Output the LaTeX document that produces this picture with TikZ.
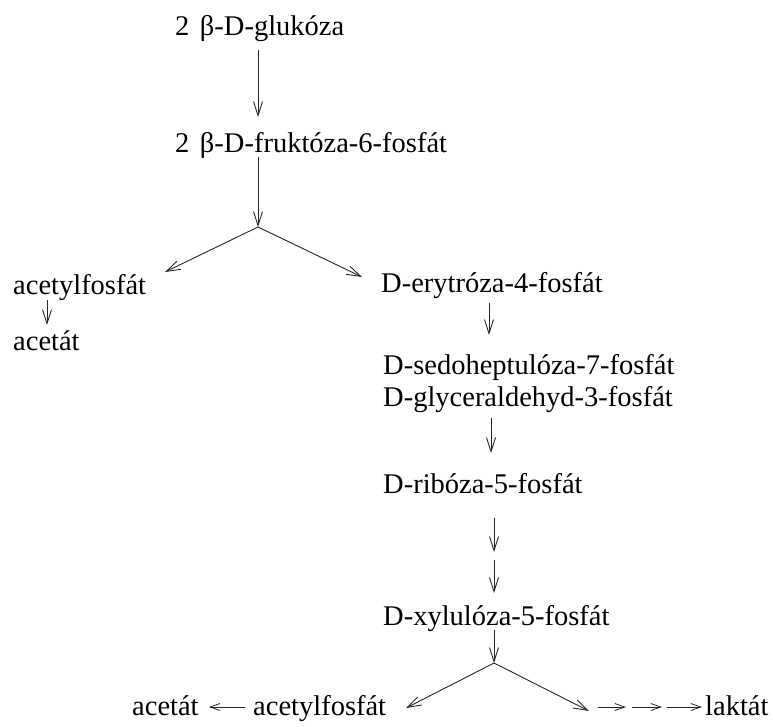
\documentclass[tikz,border=0pt]{standalone}
\usepackage{fontspec}
\setmainfont{Liberation Serif}
\usetikzlibrary{arrows.meta}

\begin{document}
\begin{tikzpicture}[x=1pt,y=-1pt,
  lbl/.style={anchor=base west,inner sep=0pt,font=\fontsize{28.5}{34}\selectfont},
  arr/.style={draw=black!85,line width=0.9pt,-{Straight Barb[length=14pt,width=9pt,line width=0.9pt]}},
  sarr/.style={draw=black!85,line width=0.8pt,-{Straight Barb[length=10pt,width=7pt,line width=0.8pt]}}]
\useasboundingbox (0,0) rectangle (773,726);

% metabolites
\node[lbl] (glu) at (175,35)  {2\hspace{0.12em} β-D-glukóza};
\node[lbl] (fru) at (175,152) {2\hspace{0.12em} β-D-fruktóza-6-fosfát};
\node[lbl] (acl) at (13,294)  {acetylfosfát};
\node[lbl] (ace) at (13,350)  {acetát};
\node[lbl] (ery) at (381,292) {D-erytróza-4-fosfát};
\node[lbl] (sed) at (383,374) {D-sedoheptulóza-7-fosfát};
\node[lbl] (gly) at (383,406) {D-glyceraldehyd-3-fosfát};
\node[lbl] (rib) at (383,493) {D-ribóza-5-fosfát};
\node[lbl] (xyl) at (383,625) {D-xylulóza-5-fosfát};
\node[lbl] (ac2) at (132,715) {acetát};
\node[lbl] (acp) at (253,715) {acetylfosfát};
\node[lbl] (lak) at (705,715) {laktát};

% branch points and free arrow ends
\coordinate (J1) at (258,227);
\coordinate (L1) at (165,272);
\coordinate (R1) at (362,277);
\coordinate (J2) at (494,663);
\coordinate (L2) at (406,708);
\coordinate (R2) at (589,711);
\coordinate (rx) at (494,556);
\coordinate (m1) at (598,707);
\coordinate (m2) at (632,707);
\coordinate (m3) at (667,707);

% upper pathway
\draw[arr] ([shift={(83,15)}]glu.base west) -- ([shift={(83,-35)}]fru.base west);
\draw[arr] ([shift={(83,5)}]fru.base west) -- (J1);
\draw[arr] (J1) -- (L1);
\draw[arr] (J1) -- (R1);
\draw[arr] ([shift={(34,6)}]acl.base west) -- ([shift={(34,-25)}]ace.base west);
\draw[arr] ([shift={(108,11)}]ery.base west) -- ([shift={(106,-39)}]sed.base west);
\draw[arr] ([shift={(108,12)}]gly.base west) -- ([shift={(108,-40)}]rib.base west);
\draw[arr] ([shift={(111,25)}]rib.base west) -- ([shift={(0,-4)}]rx);
\draw[arr] ([shift={(0,4)}]rx) -- ([shift={(111,-32)}]xyl.base west);
\draw[arr] ([shift={(111,5)}]xyl.base west) -- (J2);

% lower branches
\draw[arr] (J2) -- (L2);
\draw[arr] (J2) -- (R2);
\draw[sarr] ([shift={(-8,-8)}]acp.base west) -- ([shift={(10,-8)}]ac2.base east);
\draw[sarr] (m1) -- ([shift={(28,0)}]m1);
\draw[sarr] (m2) -- ([shift={(30,0)}]m2);
\draw[sarr] (m3) -- ([shift={(-3,-8)}]lak.base west);
\end{tikzpicture}
\end{document}
